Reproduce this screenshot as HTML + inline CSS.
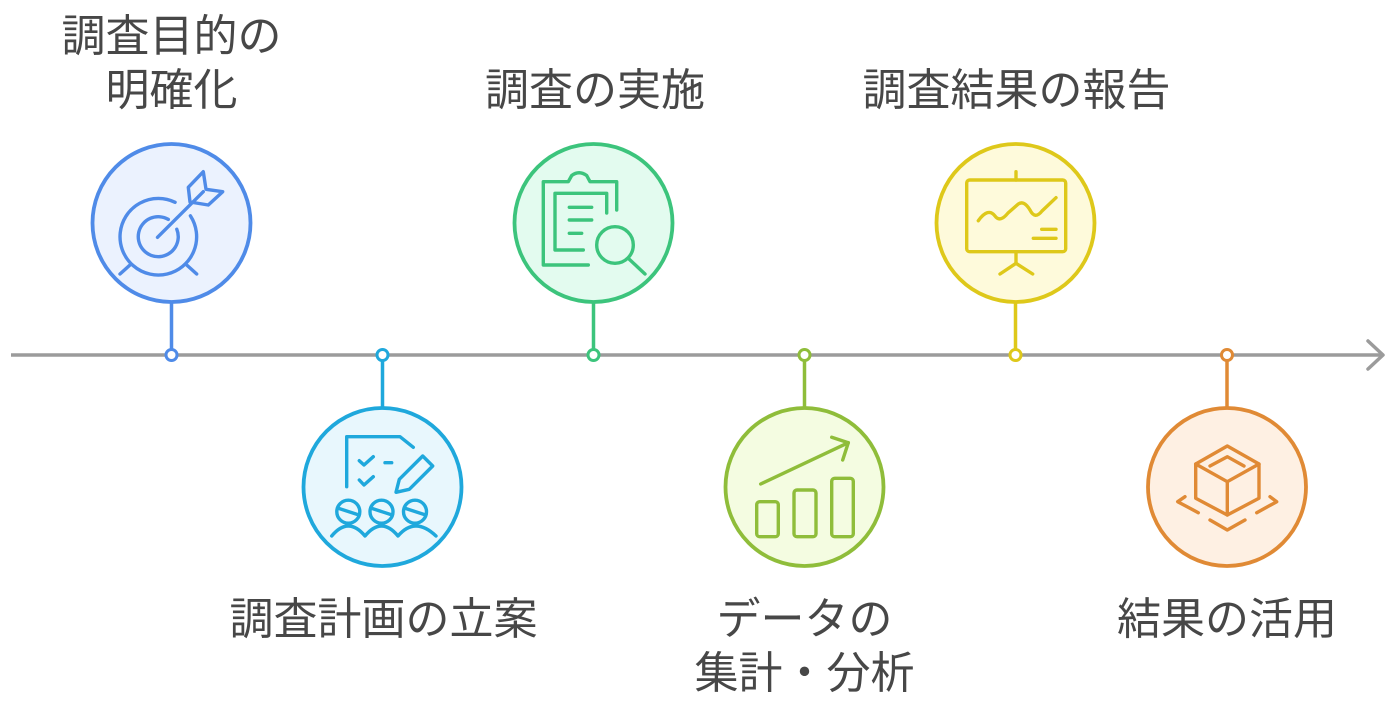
<!DOCTYPE html>
<html><head><meta charset="utf-8">
<style>
html,body{margin:0;padding:0;background:#fff;}
svg{display:block;}
text{font-family:"Liberation Sans","Noto Sans CJK JP",sans-serif;font-size:44px;fill:#474747;text-anchor:middle;}
</style></head>
<body>
<svg width="1395" height="707" viewBox="0 0 1395 707" xmlns="http://www.w3.org/2000/svg">
<!-- timeline -->
<line x1="11" y1="355" x2="1382" y2="355" stroke="#9b9b9b" stroke-width="3.5"/>
<polyline points="1368,341 1383,355 1368,369" fill="none" stroke="#9b9b9b" stroke-width="3.5" stroke-linecap="round" stroke-linejoin="round"/>

<g fill="none" stroke-linecap="round" stroke-linejoin="round">
<!-- 1 blue -->
<line x1="171.5" y1="303" x2="171.5" y2="350" stroke="#4f8be8" stroke-width="3.5"/>
<circle cx="171.5" cy="223" r="79" fill="#ebf2fe" stroke="#4f8be8" stroke-width="3.8"/>
<circle cx="171.5" cy="355" r="5.5" fill="#fff" stroke="#4f8be8" stroke-width="3"/>
<g stroke="#4f8be8" stroke-width="3.4">
<path d="M190.4,215.8 A38.3,38.3 0 1 1 175.1,202.3"/>
<path d="M176.8,229.2 A20,20 0 1 1 168.3,219.4"/>
<line x1="157.5" y1="237.3" x2="203.3" y2="191.7"/>
<line x1="120" y1="274" x2="130" y2="265"/>
<line x1="186.7" y1="265" x2="196.7" y2="274"/>
<polygon points="188.3,187.3 203.3,171.7 206,189.3 222.7,191.7 208.3,205 190,202"/>
</g>

<!-- 2 cyan -->
<line x1="382.5" y1="360" x2="382.5" y2="407" stroke="#1fa8dc" stroke-width="3.5"/>
<circle cx="382.5" cy="487" r="79" fill="#e8f7fd" stroke="#1fa8dc" stroke-width="3.8"/>
<circle cx="382.5" cy="355" r="5.5" fill="#fff" stroke="#1fa8dc" stroke-width="3"/>
<g stroke="#1fa8dc" stroke-width="3.4">
<polyline points="346.7,486.7 346.7,436.7 400,436.7 413.3,447.3"/>
<polyline points="359.3,460.7 364,465 373.3,456.7"/>
<line x1="385" y1="462.7" x2="391.7" y2="462.7"/>
<polyline points="359.3,480 364,485 373.3,476.7"/>
<polygon points="396,492.3 399.3,479.3 422.7,456 432.7,466 409.3,489.3"/>
<circle cx="348.3" cy="511.7" r="11.5"/>
<circle cx="381.5" cy="511.7" r="11.5"/>
<circle cx="415" cy="511.7" r="11.5"/>
<line x1="337.5" y1="508" x2="359" y2="515"/>
<line x1="370.7" y1="508" x2="392.2" y2="515"/>
<line x1="404.2" y1="508" x2="425.7" y2="515"/>
<path d="M331.7,536 Q348.3,516 365,536 Q381.5,516 398,536 Q415,516 436,536"/>
</g>

<!-- 3 green -->
<line x1="593.5" y1="303" x2="593.5" y2="350" stroke="#3cc47c" stroke-width="3.5"/>
<circle cx="593.5" cy="223" r="79" fill="#e3fbef" stroke="#3cc47c" stroke-width="3.8"/>
<circle cx="593.5" cy="355" r="5.5" fill="#fff" stroke="#3cc47c" stroke-width="3"/>
<g stroke="#3cc47c" stroke-width="3.4">
<path d="M588.3,265 L543.3,265 L543.3,181.7 L568.3,181.7 L571.7,175.5 Q579,170 586.7,175.5 L590,181.7 L616.7,181.7 L616.7,210"/>
<polyline points="583.3,250 555,250 555,193.3 606.7,193.3 606.7,213"/>
<line x1="569.3" y1="207.3" x2="591.7" y2="207.3"/>
<line x1="569.3" y1="220" x2="591.7" y2="220"/>
<line x1="569.3" y1="233.3" x2="581.7" y2="233.3"/>
<circle cx="615" cy="245" r="18.3"/>
<line x1="629" y1="259" x2="645" y2="274"/>
</g>

<!-- 4 lime -->
<line x1="804.5" y1="360" x2="804.5" y2="407" stroke="#8fbd3a" stroke-width="3.5"/>
<circle cx="804.5" cy="487" r="79" fill="#f4fce1" stroke="#8fbd3a" stroke-width="3.8"/>
<circle cx="804.5" cy="355" r="5.5" fill="#fff" stroke="#8fbd3a" stroke-width="3"/>
<g stroke="#8fbd3a" stroke-width="3.4">
<line x1="760.7" y1="484" x2="848.3" y2="442.7"/>
<polyline points="831.7,437.3 848.3,442.7 842.7,460"/>
<rect x="756.7" y="501.7" width="21.6" height="35" rx="3"/>
<rect x="794" y="490" width="22" height="46.7" rx="3"/>
<rect x="831.7" y="478.3" width="21.6" height="58.4" rx="3"/>
</g>

<!-- 5 yellow -->
<line x1="1015.5" y1="303" x2="1015.5" y2="350" stroke="#dec81a" stroke-width="3.5"/>
<circle cx="1015.5" cy="223" r="79" fill="#fefadb" stroke="#dec81a" stroke-width="3.8"/>
<circle cx="1015.5" cy="355" r="5.5" fill="#fff" stroke="#dec81a" stroke-width="3"/>
<g stroke="#dec81a" stroke-width="3.4">
<rect x="966.7" y="180" width="99" height="71.7" rx="3"/>
<line x1="1016" y1="171.7" x2="1016" y2="180"/>
<line x1="1016" y1="251.7" x2="1016" y2="263.3"/>
<polyline points="1000,274 1016,263.3 1032.7,274"/>
<path d="M978.3,220.7 Q988.3,207 995,216 Q1000,223 1008,213 L1018.3,204 Q1024,200 1030,210 Q1035,220 1042,211 L1056,197.7"/>
<line x1="1041.7" y1="229.3" x2="1056" y2="229.3"/>
<line x1="1033.3" y1="238.3" x2="1056" y2="238.3"/>
</g>

<!-- 6 orange -->
<line x1="1227" y1="360" x2="1227" y2="407" stroke="#e08a35" stroke-width="3.5"/>
<circle cx="1227" cy="487" r="79" fill="#fef0e3" stroke="#e08a35" stroke-width="3.8"/>
<circle cx="1227" cy="355" r="5.5" fill="#fff" stroke="#e08a35" stroke-width="3"/>
<g stroke="#e08a35" stroke-width="3.4">
<polygon points="1227.3,446 1259,464 1259,498.3 1227.3,515 1195.7,498.3 1195.7,464"/>
<polyline points="1195.7,464 1227.3,481.7 1259,464"/>
<line x1="1227.3" y1="481.7" x2="1227.3" y2="515"/>
<polyline points="1210,466 1227.3,456.7 1244,466"/>
<polyline points="1185,496.7 1177.7,501.7 1198.3,512.7"/>
<polyline points="1256.7,512.7 1276.7,501.7 1270,496.7"/>
<polyline points="1210,520 1227.3,530 1245,520"/>
</g>
</g>

<!-- labels -->
<text x="171.5" y="51">調査目的の</text>
<text x="171.5" y="105">明確化</text>
<text x="595" y="105">調査の実施</text>
<text x="1016.5" y="105">調査結果の報告</text>
<text x="383.5" y="634">調査計画の立案</text>
<text x="804.5" y="634">データの</text>
<text x="804.5" y="688">集計・分析</text>
<text x="1227" y="634">結果の活用</text>
</svg>
</body></html>
